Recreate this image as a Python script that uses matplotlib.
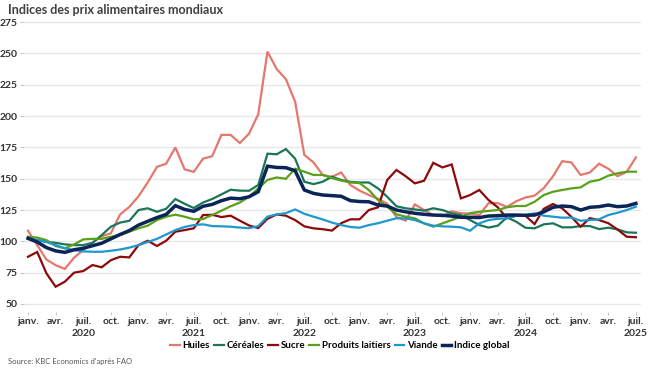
import matplotlib
matplotlib.use("Agg")
import matplotlib.pyplot as plt

# FAO indices, monthly, janv. 2020 - juil. 2025
huiles = [
    108.5, 97.0, 85.5, 81.0, 78.0, 87.0, 93.0, 99.0, 104.0, 106.5, 121.5, 127.5,
    136.0, 147.0, 159.5, 162.0, 175.0, 157.5, 155.5, 166.0, 168.0, 185.0, 185.0, 178.5,
    186.0, 201.5, 251.5, 237.5, 229.5, 211.5, 169.0, 163.0, 153.0, 151.5, 155.0, 145.0,
    140.5, 137.0, 134.0, 130.0, 119.5, 116.5, 129.5, 125.0, 121.0, 120.0, 124.0, 122.5,
    122.0, 121.0, 130.5, 130.5, 127.5, 132.0, 135.0, 136.5, 142.5, 152.0, 164.0, 163.0,
    153.0, 155.0, 162.0, 158.0, 152.0, 155.5, 167.0,
]
cereales = [
    102.5, 101.0, 99.7, 98.8, 97.6, 97.0, 97.0, 98.8, 105.0, 111.7, 115.0, 116.4,
    125.0, 126.4, 123.6, 126.0, 133.8, 130.0, 126.6, 131.0, 133.8, 137.5, 141.2, 140.5,
    140.4, 145.0, 170.0, 169.5, 173.7, 166.0, 147.6, 145.7, 147.6, 151.6, 149.0, 147.5,
    147.0, 147.0, 142.3, 135.6, 128.0, 126.4, 125.5, 124.5, 126.4, 125.0, 122.4, 121.0,
    117.0, 113.0, 111.0, 112.5, 119.2, 115.7, 110.9, 110.4, 113.6, 114.4, 111.2, 111.2,
    112.2, 112.2, 109.8, 110.9, 109.6, 107.2, 106.9,
]
sucre = [
    87.7, 91.5, 74.5, 63.8, 67.8, 75.0, 76.3, 81.1, 79.3, 85.0, 87.7, 87.2,
    97.0, 100.5, 96.3, 100.5, 107.7, 109.0, 110.4, 121.0, 121.2, 119.4, 120.5, 116.5,
    112.7, 110.6, 118.0, 121.5, 120.5, 117.0, 112.0, 110.4, 109.7, 108.6, 114.5, 117.6,
    117.6, 125.0, 127.2, 149.0, 157.0, 152.0, 146.3, 148.4, 162.7, 159.0, 161.4, 134.3,
    137.0, 141.0, 133.0, 127.2, 118.4, 120.5, 120.5, 113.8, 126.0, 129.8, 126.4, 119.5,
    111.7, 118.5, 117.0, 114.5, 109.5, 103.7, 103.3,
]
laitiers = [
    103.7, 103.0, 101.0, 96.3, 94.4, 97.6, 101.6, 102.0, 102.0, 103.7, 105.0, 107.7,
    110.4, 112.5, 117.0, 119.7, 121.3, 119.7, 117.6, 117.8, 121.0, 124.5, 128.0, 131.0,
    135.6, 142.3, 149.0, 151.0, 150.0, 158.0, 155.6, 153.0, 153.0, 150.5, 148.5, 147.0,
    146.5, 141.0, 133.0, 127.7, 121.6, 119.7, 118.4, 114.4, 111.7, 114.4, 117.0, 119.7,
    122.5, 123.6, 124.3, 125.0, 127.2, 128.2, 128.2, 131.6, 137.0, 139.6, 141.0, 142.3,
    143.1, 147.6, 149.0, 152.4, 154.3, 155.6, 155.6,
]
viande = [
    102.4, 101.0, 99.5, 97.0, 94.5, 93.0, 92.0, 91.7, 91.7, 92.5, 93.5, 95.0,
    97.0, 99.5, 102.0, 105.5, 109.0, 111.5, 113.0, 113.6, 112.2, 112.0, 111.7, 111.0,
    110.5, 112.2, 119.7, 121.5, 122.5, 125.5, 122.0, 119.7, 117.5, 115.0, 113.0, 111.5,
    110.9, 113.0, 114.5, 116.5, 118.4, 118.4, 117.0, 114.4, 112.5, 112.0, 111.7, 111.2,
    108.5, 114.4, 117.0, 118.0, 118.4, 120.5, 121.0, 122.4, 120.5, 119.7, 118.9, 119.0,
    116.5, 117.0, 117.6, 121.0, 122.8, 125.0, 127.7,
]
indice_global = [
    102.4, 99.5, 95.0, 92.4, 91.2, 93.3, 94.5, 96.5, 98.5, 102.0, 105.5, 108.6,
    113.0, 116.0, 119.0, 121.5, 128.5, 125.5, 124.0, 128.0, 129.5, 132.5, 134.5, 134.0,
    135.6, 139.6, 160.0, 159.0, 158.8, 156.4, 141.0, 138.3, 137.0, 136.5, 136.0, 132.5,
    131.8, 131.6, 129.0, 128.2, 125.0, 123.6, 122.4, 121.6, 121.0, 120.8, 120.2, 119.2,
    119.2, 119.0, 120.2, 120.5, 121.0, 121.0, 120.8, 121.0, 123.6, 127.2, 128.2, 127.7,
    125.0, 127.2, 127.7, 129.0, 127.7, 128.2, 130.3,
]

mois = ["janv.", "avr.", "juil.", "oct."]
annees = ["2020", "2021", "2022", "2023", "2024", "2025"]

plt.rcParams["font.family"] = ["Lato", "DejaVu Sans"]

fig = plt.figure(figsize=(6.5, 3.72), dpi=100)
ax = fig.add_axes([0.0374, 0.1626, 0.948, 0.788])

x = list(range(len(indice_global)))
series = [
    (huiles, "Huiles", "#E4786E", 1.6),
    (cereales, "Céréales", "#1B7558", 1.6),
    (sucre, "Sucre", "#8C0A0A", 1.6),
    (laitiers, "Produits laitiers", "#5AA018", 1.6),
    (viande, "Viande", "#1F97CF", 1.6),
    (indice_global, "Indice global", "#0B2558", 2.5),
]
for vals, name, col, lw in series:
    ax.plot(x, vals, color=col, lw=lw, label=name, solid_joinstyle="miter")

ticks = list(range(0, len(x), 3))
labels = []
for i, t in enumerate(ticks):
    m = mois[i % 4]
    if m == "juil.":
        m = m + "\n" + annees[t // 12]
    labels.append(m)
ax.set_xticks(ticks)
ax.set_xticklabels(labels, fontsize=7.5, color="#333333", fontweight="bold",
                   linespacing=1.45)
ax.set_xlim(-0.4, 66.5)

ax.set_ylim(44, 278)
ax.set_yticks(range(50, 276, 25))
ax.tick_params(axis="y", labelsize=7.5, colors="#333333", length=3, width=0.6,
               color="#bbbbbb", pad=2)
ax.tick_params(axis="x", length=2, width=0.6, color="#bbbbbb", pad=2)
for lab in ax.get_yticklabels():
    lab.set_fontweight("bold")
ax.grid(axis="y", color="#e8e8e8", lw=1)
ax.set_axisbelow(True)
for s in ax.spines.values():
    s.set_visible(False)

fig.text(0.012, 0.972, "Indices des prix alimentaires mondiaux", fontsize=9,
         fontweight="bold", color="#404040", va="center")
fig.text(0.012, 0.027, "Source: KBC Economics d'après FAO", fontsize=5.5,
         color="#555555", va="center")

ax.legend(loc="center", bbox_to_anchor=(0.523, 0.07), bbox_transform=fig.transFigure,
          ncol=6, frameon=False, handlelength=1.0, handletextpad=0.3,
          columnspacing=0.4, prop={"weight": "bold", "size": 7})

fig.savefig("out.png", dpi=100)
